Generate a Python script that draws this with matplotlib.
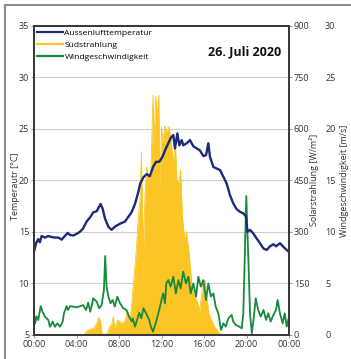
import matplotlib
matplotlib.use('Agg')
import matplotlib.pyplot as plt
from matplotlib.lines import Line2D

plt.rcParams['font.family'] = ['Open Sans', 'DejaVu Sans']

# temperature (left axis, °C)
hours_t = [0, 0.2, 0.4, 0.56, 0.72, 1.03, 1.35, 1.66, 1.97, 2.3, 2.6, 2.9, 3.17, 3.4,
           3.7, 4.0, 4.3, 4.6, 4.95, 5.27, 5.58, 5.9, 6.1, 6.27, 6.46, 6.68, 7.0, 7.3,
           7.6, 8.1, 8.56, 8.87, 9.18, 9.5, 9.8, 10.0, 10.3, 10.6, 10.9, 11.2, 11.5,
           11.8, 12.1, 12.33, 12.64, 12.86, 13.11, 13.27, 13.49, 13.68, 13.9, 14.05,
           14.37, 14.68, 15.0, 15.31, 15.62, 15.94, 16.19, 16.41, 16.56, 16.88, 17.19,
           17.51, 17.82, 18.13, 18.45, 18.76, 19.08, 19.39, 19.7, 19.95, 20.08, 20.33,
           20.64, 20.96, 21.27, 21.59, 21.9, 22.21, 22.53, 22.78, 23.15, 23.47, 23.78, 24.0]
temp = [13.1, 13.9, 14.3, 14.0, 14.6, 14.45, 14.6, 14.5, 14.45, 14.45, 14.25, 14.6, 14.9, 14.7,
        14.65, 14.8, 15.0, 15.3, 16.0, 16.4, 16.9, 17.0, 17.4, 17.7, 17.25, 16.3, 15.5, 15.2,
        15.5, 15.8, 16.0, 16.45, 16.9, 17.7, 18.8, 19.7, 20.3, 20.6, 20.4, 21.3, 21.8,
        21.8, 22.3, 22.9, 23.6, 24.1, 24.4, 23.1, 24.55, 23.4, 23.9, 23.4,
        23.6, 23.9, 23.3, 23.1, 22.9, 22.35, 22.45, 23.6, 22.3, 21.3, 21.15,
        21.0, 20.35, 19.7, 18.55, 17.75, 17.2, 16.95, 16.8, 16.5, 15.0, 15.2,
        14.85, 14.35, 13.9, 13.4, 13.25, 13.6, 13.8, 13.6, 13.9, 13.55, 13.25, 13.05]

# south radiation (W/m2)
hours_s = [0, 4.7, 4.9, 5.1, 5.4, 5.6, 5.9, 6.1, 6.25, 6.36, 6.5, 6.9, 7.1, 7.3, 7.46, 7.6,
           7.9, 8.2, 8.56, 8.8, 8.95, 9.1, 9.28, 9.4, 9.65, 9.8, 10.0, 10.1, 10.2, 10.3,
           10.45, 10.6, 10.8, 11.0, 11.2, 11.3, 11.45, 11.6, 11.75, 11.85, 12.0, 12.1,
           12.3, 12.5, 12.7, 12.9, 13.1, 13.3, 13.45, 13.6, 13.8, 13.95, 14.05, 14.2,
           14.35, 14.6, 14.7, 14.85, 15.0, 15.3, 15.6, 15.9, 16.1, 16.25, 16.45, 16.7,
           17.0, 17.35, 17.6, 17.9, 24]
solar = [0, 0, 10, 15, 18, 19, 34, 51, 44, 10, 0, 5, 24, 30, 53, 20,
         44, 34, 39, 73, 24, 60, 121, 160, 257, 335, 403, 533, 380, 250,
         413, 490, 451, 470, 698, 560, 695, 640, 698, 422, 606, 560,
         608, 590, 606, 568, 500, 560, 451, 437, 480, 354, 315, 276,
         300, 237, 199, 150, 121, 102, 73, 150, 160, 112, 63, 44,
         24, 10, 0, 0, 0]

# wind speed (m/s)
hours_w = [0, 0.1, 0.25, 0.4, 0.63, 0.8, 1.03, 1.35, 1.5, 1.75, 1.97, 2.2, 2.45, 2.7, 2.82,
           3.07, 3.2, 3.39, 3.7, 4.0, 4.33, 4.64, 4.9, 5.1, 5.3, 5.58, 5.9, 6.14, 6.36,
           6.58, 6.7, 6.83, 7.0, 7.2, 7.4, 7.6, 7.84, 8.1, 8.4, 8.7, 8.95, 9.18, 9.3,
           9.5, 9.7, 9.9, 10.1, 10.3, 10.55, 10.85, 11.0, 11.2, 11.45, 11.7, 11.86,
           12.0, 12.16, 12.33, 12.45, 12.64, 12.86, 13.11, 13.35, 13.59, 13.8, 14.05,
           14.3, 14.53, 14.75, 15.0, 15.25, 15.47, 15.7, 15.94, 16.19, 16.41, 16.65,
           16.88, 17.1, 17.35, 17.6, 17.82, 18.05, 18.29, 18.6, 18.75, 19.0, 19.33,
           19.55, 19.7, 19.86, 19.98, 20.08, 20.2, 20.33, 20.5, 20.66, 20.87, 21.1,
           21.33, 21.6, 21.84, 22.05, 22.27, 22.53, 22.78, 22.93, 23.15, 23.4, 23.6,
           23.78, 24.0]
wind = [2.3, 1.1, 1.8, 1.45, 2.8, 2.26, 1.78, 1.45, 0.8, 1.3, 0.8, 1.13, 0.8, 1.3, 2.1,
        2.8, 2.42, 2.8, 2.75, 2.68, 2.8, 2.9, 2.42, 3.14, 2.26, 3.56, 3.23, 2.59, 2.9,
        4.36, 7.66, 4.69, 3.72, 3.07, 3.4, 2.75, 3.72, 3.07, 2.59, 2.42, 1.78, 1.3, 1.62,
        0.81, 1.45, 2.17, 1.62, 2.59, 2.1, 1.45, 0.81, 0.32, 1.13, 2.1, 2.75,
        3.4, 4.04, 3.07, 5.0, 5.33, 4.69, 5.66, 4.04, 5.33, 4.52, 6.14,
        5.0, 5.66, 4.04, 5.0, 3.72, 5.66, 4.69, 5.33, 3.4, 5.0, 3.72,
        4.04, 2.75, 2.1, 0.49, 1.13, 0.81, 1.62, 1.94, 1.3, 0.97, 0.81,
        0.65, 2.1, 8.57, 13.48, 10.2, 6.63, 2.1, 0.16, 1.46, 3.56, 2.43,
        1.78, 2.43, 1.46, 2.1, 1.3, 1.94, 2.43, 3.4, 2.1, 1.13, 2.1,
        0.81, 1.78]

xticks = [0, 4, 8, 12, 16, 20, 24]
xticklabels = ['00:00', '04:00', '08:00', '12:00', '16:00', '20:00', '00:00']

c_temp = '#1c2a78'
c_solar = '#fcc526'
c_wind = '#178a3c'
c_spine = '#3a3a3a'

fig = plt.figure(figsize=(3.51, 3.59), dpi=100)
ax_t = fig.add_axes([34 / 351, 24 / 359, 255 / 351, 309.3 / 359])
ax_s = ax_t.twinx()
ax_w = ax_t.twinx()

# layer order: radiation at the bottom (with grid), then wind, then temperature
ax_s.set_zorder(0)
ax_w.set_zorder(1)
ax_t.set_zorder(2)
ax_s.patch.set_visible(True)
ax_s.patch.set_facecolor('white')
ax_t.patch.set_visible(False)

ax_s.fill_between(hours_s, solar, 0, color=c_solar, lw=0)
l_s, = ax_s.plot(hours_s, solar, color=c_solar, lw=0.6)
l_w, = ax_w.plot(hours_w, wind, color=c_wind, lw=1.3)
l_t, = ax_t.plot(hours_t, temp, color=c_temp, lw=1.7)

ax_t.set_xlim(0, 24)
ax_t.set_ylim(5, 35)
ax_s.set_ylim(0, 900)
ax_w.set_ylim(0, 30)

ax_t.set_xticks(xticks)
ax_t.set_xticklabels(xticklabels)
ax_t.set_yticks(range(5, 36, 5))
ax_s.set_yticks(range(0, 901, 150))
ax_w.set_yticks(range(0, 31, 5))

ax_s.grid(True, color='#cfcfcf', lw=0.8)
ax_s.set_axisbelow(True)

for a in (ax_t, ax_s, ax_w):
    for sp in a.spines.values():
        sp.set_color(c_spine)
        sp.set_linewidth(1.3)
ax_w.spines['right'].set_visible(False)

ax_t.tick_params(axis='both', labelsize=6.5, length=2, width=0.6, color='#888888',
                 labelcolor='#333333', pad=1.5)
ax_s.tick_params(axis='y', labelsize=6.5, length=2, width=0.6, color='#888888',
                 labelcolor='#333333', pad=1.5)
ax_w.tick_params(axis='y', labelsize=6.5, length=0, labelcolor='#333333', pad=26)

ax_t.set_ylabel('Temperautr [°C]', fontsize=6.5, color='#333333')
ax_s.set_ylabel('Solarstrahlung [W/m²]', fontsize=6.5, color='#333333')
ax_w.set_ylabel('Windgeschwindigkeit [m/s]', fontsize=6.5, color='#333333')
ax_t.yaxis.set_label_coords(-0.055, 0.48)
ax_s.yaxis.set_label_coords(1.078, 0.5)
ax_w.yaxis.set_label_coords(1.20, 0.5)

ax_t.text(0.97, 0.935, '26. Juli 2020', transform=ax_t.transAxes, ha='right', va='top',
          fontsize=9, fontweight='bold', color='#111111')

leg = ax_t.legend([l_t, l_s, l_w], ['Aussenlufttemperatur', 'Südstrahlung', 'Windgeschwindigkeit'],
                  loc='upper left', fontsize=6.1, frameon=True, framealpha=1, facecolor='white',
                  edgecolor='none', fancybox=False, handlelength=3.0, handletextpad=0.2,
                  labelspacing=0.45, borderpad=0.2, borderaxespad=0.2)
for h in leg.get_lines():
    h.set_linewidth(1.6)

# grey frame at top and left of the picture
fig.add_artist(Line2D([5 / 351, 1], [1 - 5 / 359, 1 - 5 / 359], color='#8c8c8c', lw=1.5))
fig.add_artist(Line2D([5 / 351, 5 / 351], [0, 1 - 5 / 359], color='#8c8c8c', lw=1.5))

fig.savefig('out.png', dpi=100)
